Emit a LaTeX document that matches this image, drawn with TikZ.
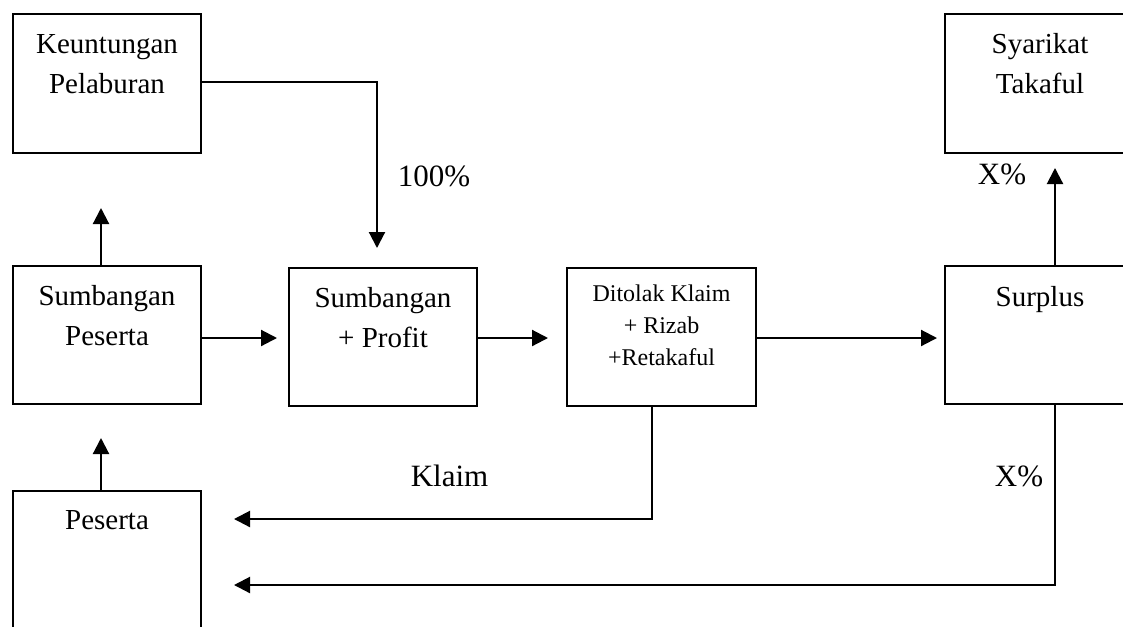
\documentclass[tikz,border=0pt]{standalone}
\usepackage{fontspec}
\setmainfont{Liberation Serif}
\usetikzlibrary{arrows.meta}
\begin{document}
\begin{tikzpicture}[x=0.75pt,y=-0.75pt,
  box/.style={draw, line width=1.4pt, minimum width=141pt, minimum height=103.5pt, inner sep=0pt},
  txt/.style={anchor=base, inner sep=0pt, font=\fontsize{21.75}{30}\selectfont},
  small/.style={anchor=base, inner sep=0pt, font=\fontsize{18}{24}\selectfont},
  lbl/.style={anchor=base, inner sep=0pt, font=\fontsize{23.25}{30}\selectfont},
  flow/.style={line width=1.6pt, -{Triangle[length=12pt,width=12pt]}},
  link/.style={line width=1.6pt}]
  \useasboundingbox (0,0) rectangle (1123,626);
  \fill[white] (0,0) rectangle (1123,626);
  \clip (0,0) rectangle (1123,626);

  % boxes
  \node[box, minimum height=104.25pt] (kp) at (107,83.5) {};
  \node[box, minimum width=142.5pt, minimum height=104.25pt] (st) at (1040,83.5) {};
  \node[box] (sp) at (107,335) {};
  \node[box] (spr) at (383,337) {};
  \node[box, minimum width=141.75pt] (dk) at (661.5,337) {};
  \node[box, minimum width=142.5pt] (su) at (1040,335) {};
  \node[box, minimum height=150pt] (pe) at (107,591) {};

  % box texts
  \node[txt] (kp1) at (107,53) {Keuntungan};
  \node[txt] (kp2) at (107,93) {Pelaburan};
  \node[txt] (st1) at (1040,53) {Syarikat};
  \node[txt] (st2) at (1040,93) {Takaful};
  \node[txt] (sp1) at (107,305) {Sumbangan};
  \node[txt] (sp2) at (107,345) {Peserta};
  \node[txt] (spr1) at (383,307) {Sumbangan};
  \node[txt] (spr2) at (383,347) {+ Profit};
  \node[small] (dk1) at (661.5,301) {Ditolak Klaim};
  \node[small] (dk2) at (661.5,333) {+ Rizab};
  \node[small] (dk3) at (661.5,365) {+Retakaful};
  \node[txt] (su1) at (1040,306) {Surplus};
  \node[txt] (pe1) at (107,529) {Peserta};

  % flow labels
  \node[lbl] (l100) at (434,186) {100\%};
  \node[lbl] (lxa) at (1002,184) {X\%};
  \node[lbl] (lkl) at (449.5,486) {Klaim};
  \node[lbl] (lxb) at (1019,486) {X\%};

  % arrow ends and corners
  \coordinate (tkp) at (377,248);
  \coordinate (tsp) at (101,208);
  \coordinate (tpe) at (101,438);
  \coordinate (tspr) at (277,338);
  \coordinate (tdk) at (548,338);
  \coordinate (tsu) at (937,338);
  \coordinate (tst) at (1055,168);
  \coordinate (ckl) at (652,519);
  \coordinate (tkl) at (234,519);
  \coordinate (csu) at (1055,585);
  \coordinate (tsx) at (234,585);

  % connectors
  \draw[flow] (kp.east |- 0,82) -| (tkp);
  \draw[flow] (sp.north -| tsp) -- (tsp);
  \draw[flow] (pe.north -| tpe) -- (tpe);
  \draw[flow] (sp.east |- tspr) -- (tspr);
  \draw[flow] (spr.east |- tdk) -- (tdk);
  \draw[flow] (dk.east |- tsu) -- (tsu);
  \draw[flow] (su.north -| tst) -- (tst);
  \draw[flow] (dk.south -| ckl) -- (ckl) -- (tkl);
  \draw[flow] (su.south -| csu) -- (csu) -- (tsx);
\end{tikzpicture}
\end{document}
